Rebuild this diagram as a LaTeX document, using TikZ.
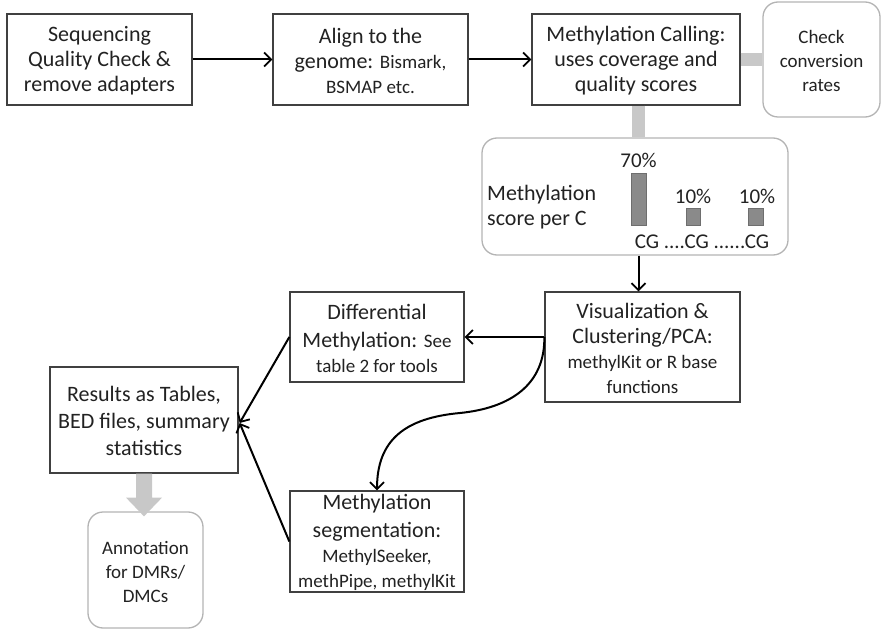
\documentclass[tikz,border=0pt]{standalone}
\usepackage{fontspec}
\setmainfont{Carlito}
\usetikzlibrary{arrows.meta,calc}
\definecolor{ink}{HTML}{222222}
\definecolor{edge}{HTML}{404040}
\definecolor{softedge}{HTML}{B4B4B4}
\definecolor{linkgray}{HTML}{C8C8C8}
\definecolor{bargray}{HTML}{8A8A8A}
\newcommand{\lgtxt}{\fontsize{22}{25}\selectfont}
\newcommand{\smtxt}{\fontsize{19}{24}\selectfont}
\begin{document}
\begin{tikzpicture}[x=1pt,y=-1pt,
  every node/.style={text=ink, inner sep=0pt},
  stepbox/.style={draw=edge, line width=1.3pt, fill=white, align=center, font=\lgtxt},
  softbox/.style={draw=softedge, line width=1.3pt, rounded corners=15pt, fill=white, align=center, font=\smtxt},
  flow/.style={draw=black, line width=2pt, -{Straight Barb[length=7pt,width=14pt,line width=1.8pt]}},
  link/.style={draw=linkgray, line width=13pt},
  bar/.style={fill=bargray, draw=bargray!80!black, line width=0.6pt},
  pct/.style={font=\fontsize{21}{24}\selectfont}
]
\useasboundingbox (0,0) rectangle (884,631);

% top row
\node[stepbox, minimum width=185pt, minimum height=91pt] (qc) at (99.5,59.5)
  {\strut Sequencing\\Quality Check \&\\remove adapters};
\node[stepbox, minimum width=195pt, minimum height=91pt] (align) at (370.5,59.5)
  {\strut Align to the\\genome: {\smtxt Bismark,}\\{\smtxt BSMAP etc.}};
\node[stepbox, minimum width=208pt, minimum height=91pt] (call) at (636,59.5)
  {\strut Methylation Calling:\\uses coverage and\\quality scores};
\node[softbox, minimum width=117pt, minimum height=115pt] (conv) at (821.5,59.5)
  {\strut Check\\conversion\\rates};

% methylation score panel
\node[softbox, minimum width=306pt, minimum height=117pt] (score) at (635,196.5) {};
\node[anchor=west, align=left, font=\lgtxt] (scorelbl) at (487,207)
  {Methylation\\score per C};
\fill[bar] (631,173) rectangle (646,225);
\fill[bar] (686,208) rectangle (700,225);
\fill[bar] (748,208) rectangle (763,225);
\node[pct] (p70) at (638.5,160) {70\%};
\node[pct] (p10a) at (693,196) {10\%};
\node[pct] (p10b) at (757,196) {10\%};
\node[pct] (cgs) at (702,242) {CG ....CG ......CG};

% analysis boxes
\node[stepbox, minimum width=195pt, minimum height=110pt] (vis) at (642.5,347)
  {\strut Visualization \&\\Clustering/PCA:\\{\smtxt methylKit or R base}\\{\smtxt functions}};
\node[stepbox, minimum width=174pt, minimum height=90pt] (diff) at (377,337)
  {\strut Differential\\[3pt]Methylation: {\smtxt See}\\{\smtxt table 2 for tools}};
\node[stepbox, minimum width=188pt, minimum height=106pt] (res) at (144,420)
  {\strut Results as Tables,\\[2pt]BED files, summary\\[2pt]statistics};
\node[stepbox, minimum width=174pt, minimum height=101pt] (seg) at (377,541.5)
  {\strut Methylation\\[3pt]segmentation:\\{\smtxt MethylSeeker,}\\{\smtxt methPipe, methylKit}};
\node[softbox, minimum width=115pt, minimum height=116pt] (annot) at (145.5,570)
  {\strut Annotation\\for DMRs/\\DMCs};

% grey links
\draw[link] (call.east) -- (conv.west);
\draw[link] (call.south -| p70) -- (score.north -| p70);
\fill[linkgray] ($(res.south)+(-8,0)$) -- ($(res.south)+(-8,24)$) -- ($(res.south)+(-18,24)$)
  -- ($(annot.north)+(-1.5,5)$) -- ($(res.south)+(18,24)$) -- ($(res.south)+(8,24)$)
  -- ($(res.south)+(8,0)$) -- cycle;

% black flow arrows
\draw[flow] (qc.east) -- (align.west);
\draw[flow] (align.east) -- (call.west);
\draw[flow] (score.south -| p70) -- (vis.north -| p70);
\draw[flow] (vis.west |- diff.east) -- (diff.east);
\draw[flow] (diff.west) -- ($(res.east)+(1,3)$);
\draw[flow] (seg.west) -- ($(res.east)+(1,3)$);
\draw[flow] (vis.west |- diff.east) .. controls (545,385) and (510,408) .. (460,413)
  .. controls (405,418) and (377,440) .. (seg.north);
\end{tikzpicture}
\end{document}
